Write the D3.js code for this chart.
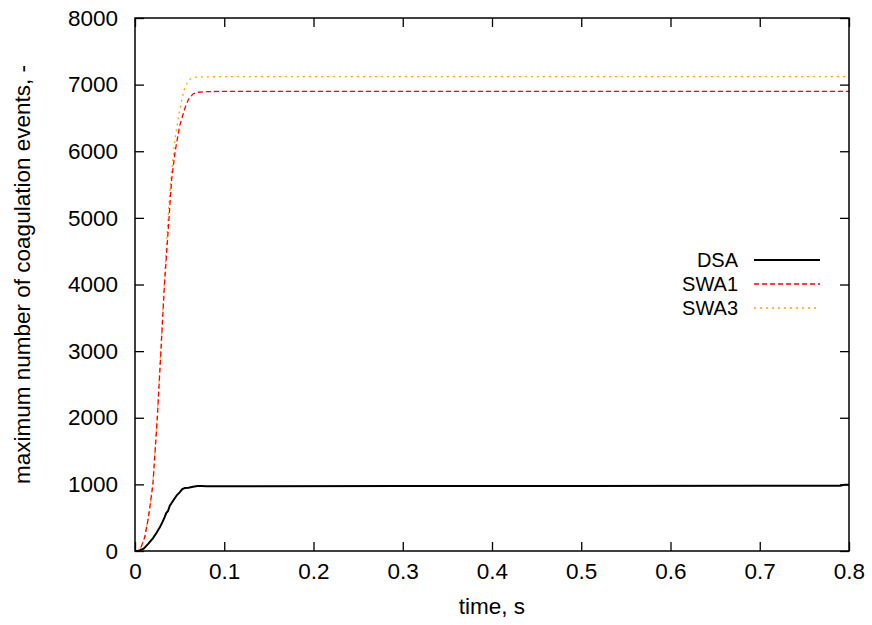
<!DOCTYPE html>
<html>
<head>
<meta charset="utf-8">
<script src="https://cdn.jsdelivr.net/npm/d3@7"></script>
<style>
  body { margin: 0; background: #fff; }
  text { font-family: "Liberation Sans", Arial, sans-serif; }
</style>
</head>
<body>
<svg id="chart" width="872" height="625"></svg>
<script>
// Values
const dsaTime = [0, 0.005, 0.01, 0.015, 0.02, 0.024, 0.028, 0.031, 0.033, 0.035, 0.037, 0.039, 0.041, 0.044, 0.047, 0.05, 0.053, 0.056, 0.06, 0.065, 0.07, 0.075, 0.08, 0.1, 0.3, 0.5, 0.7, 0.79, 0.795, 0.8];
const dsaVals = [0, 5, 40, 110, 190, 270, 360, 440, 500, 570, 600, 680, 720, 780, 840, 880, 930, 945, 950, 965, 975, 975, 972, 973, 975, 976, 978, 980, 995, 995];

const swa1Time = [0, 0.003, 0.006, 0.011, 0.015, 0.02, 0.025, 0.029, 0.033, 0.0385, 0.041, 0.045, 0.05, 0.056, 0.06, 0.065, 0.07, 0.08, 0.1, 0.8];
const swa1Vals = [0, 0, 30, 210, 500, 990, 2000, 2990, 4000, 5075, 5570, 6000, 6380, 6650, 6780, 6860, 6885, 6895, 6900, 6900];

const swa3Time = [0, 0.003, 0.006, 0.011, 0.015, 0.02, 0.025, 0.029, 0.033, 0.038, 0.041, 0.045, 0.05, 0.055, 0.06, 0.065, 0.07, 0.1, 0.8];
const swa3Vals = [0, 0, 30, 210, 510, 1000, 2050, 3050, 4080, 5200, 5700, 6200, 6620, 6920, 7070, 7105, 7115, 7120, 7120];

const xTicks = [0, 0.1, 0.2, 0.3, 0.4, 0.5, 0.6, 0.7, 0.8];
const yTicks = [0, 1000, 2000, 3000, 4000, 5000, 6000, 7000, 8000];
const seriesNames = ["DSA", "SWA1", "SWA3"];

const series = [
  {name: seriesNames[0], t: dsaTime, v: dsaVals, colour: "#000000", dash: null, width: 2},
  {name: seriesNames[1], t: swa1Time, v: swa1Vals, colour: "#ff0000", dash: "5,3", width: 1.3},
  {name: seriesNames[2], t: swa3Time, v: swa3Vals, colour: "#ffa500", dash: "2,4", width: 1.3},
];

// Layout
const margin = {left: 135, right: 872 - 849, top: 18, bottom: 625 - 551};
const width = 872 - margin.left - margin.right;
const height = 625 - margin.top - margin.bottom;
const tickLen = 9;
const fontSize = 22.5;
const legendFont = 20;

const svg = d3.select("#chart");
const g = svg.append("g").attr("transform", `translate(${margin.left},${margin.top})`);

const x = d3.scaleLinear().domain([0, 0.8]).range([0, width]);
const y = d3.scaleLinear().domain([0, 8000]).range([height, 0]);

// Inward ticks on all sides (gnuplot style)
const tickStyle = sel => sel.selectAll("line").attr("stroke", "#000").attr("stroke-width", 1.3);
g.append("g").attr("transform", `translate(0,${height})`)
  .call(d3.axisBottom(x).tickValues(xTicks).tickSize(-tickLen).tickSizeOuter(0).tickFormat(d3.format("")))
  .call(a => a.select(".domain").remove())
  .call(tickStyle)
  .call(a => a.selectAll("text").attr("y", 12).attr("dy", "0.71em").attr("font-size", fontSize).attr("fill", "#000"));
g.append("g")
  .call(d3.axisTop(x).tickValues(xTicks).tickSize(-tickLen).tickSizeOuter(0).tickFormat(""))
  .call(a => a.select(".domain").remove())
  .call(tickStyle);
g.append("g")
  .call(d3.axisLeft(y).tickValues(yTicks).tickSize(-tickLen).tickSizeOuter(0).tickFormat(d3.format("d")))
  .call(a => a.select(".domain").remove())
  .call(tickStyle)
  .call(a => a.selectAll("text").attr("x", -17).attr("font-size", fontSize).attr("fill", "#000"));
g.append("g").attr("transform", `translate(${width},0)`)
  .call(d3.axisRight(y).tickValues(yTicks).tickSize(-tickLen).tickSizeOuter(0).tickFormat(""))
  .call(a => a.select(".domain").remove())
  .call(tickStyle);

// Curves
const line = d3.line().x(d => x(d[0])).y(d => y(d[1]));
series.slice().reverse().forEach(s => {
  g.append("path")
    .datum(s.t.map((t, i) => [t, s.v[i]]))
    .attr("fill", "none")
    .attr("stroke", s.colour)
    .attr("stroke-width", s.width)
    .attr("stroke-dasharray", s.dash)
    .attr("d", line);
});

// Border
g.append("rect").attr("width", width).attr("height", height)
  .attr("fill", "none").attr("stroke", "#000").attr("stroke-width", 1.5);

// Legend
const legend = svg.append("g");
const legendRows = [260, 284, 308];
series.forEach((s, i) => {
  legend.append("text").attr("x", 738).attr("y", legendRows[i]).attr("dy", "0.35em")
    .attr("text-anchor", "end").attr("font-size", legendFont).text(s.name);
  legend.append("line").attr("x1", 754).attr("x2", 820)
    .attr("y1", legendRows[i]).attr("y2", legendRows[i])
    .attr("stroke", s.colour).attr("stroke-width", s.width)
    .attr("stroke-dasharray", s.dash);
});

// Axis labels
svg.append("text").attr("x", margin.left + width / 2).attr("y", 606)
  .attr("text-anchor", "middle").attr("dy", "0.35em").attr("font-size", fontSize).text("time, s");
svg.append("text").attr("transform", `translate(22,${margin.top + height / 2 - 10}) rotate(-90)`)
  .attr("text-anchor", "middle").attr("dy", "0.35em").attr("font-size", fontSize)
  .text("maximum number of coagulation events, -");
</script>
</body>
</html>
